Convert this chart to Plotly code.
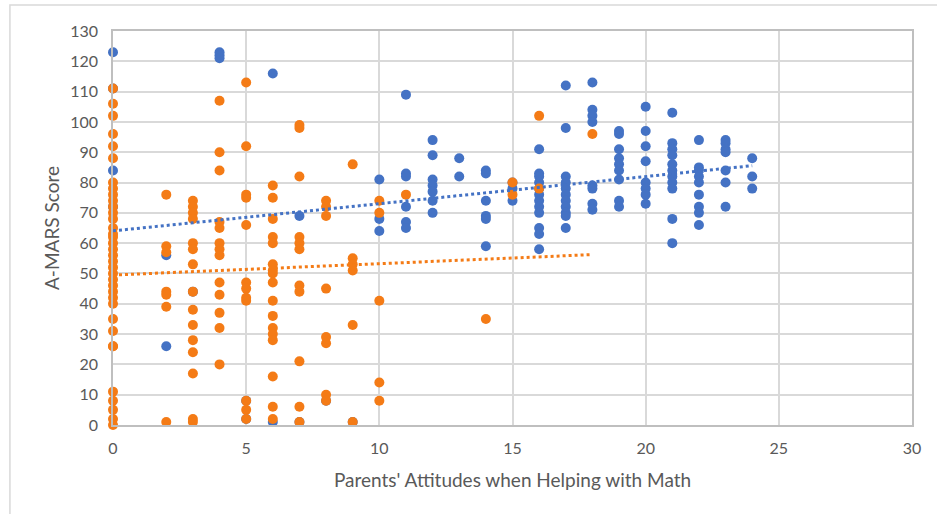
import numpy as np
import plotly.graph_objects as go

# Blue series: (attitude score, A-MARS score); several low-x points sit under orange marks
blue_x = [0, 0, 0, 0, 2, 2, 3, 4, 4, 4, 5, 5, 6, 6, 7, 7, 8, 9,
          10, 10, 10,
          11, 11, 11, 11, 11, 11,
          12, 12, 12, 12, 12, 12, 12,
          13, 13,
          14, 14, 14, 14, 14, 14,
          15, 15, 15,
          16, 16, 16, 16, 16, 16, 16, 16, 16, 16, 16, 16,
          17, 17, 17, 17, 17, 17, 17, 17, 17, 17, 17,
          18, 18, 18, 18, 18, 18, 18, 18,
          19, 19, 19, 19, 19, 19, 19, 19, 19,
          20, 20, 20, 20, 20, 20, 20, 20,
          21, 21, 21, 21, 21, 21, 21, 21, 21, 21, 21,
          22, 22, 22, 22, 22, 22, 22, 22, 22,
          23, 23, 23, 23, 23, 23, 23,
          24, 24, 24]
blue_y = [123, 84, 111, 72, 56, 26, 44, 123, 122, 121, 2, 8, 116, 1, 69, 1, 8, 1,
          81, 68, 64,
          109, 83, 82, 72, 67, 65,
          94, 89, 81, 79, 77, 74, 70,
          88, 82,
          84, 83, 74, 69, 68, 59,
          80, 78, 74,
          91, 83, 82, 80, 78, 76, 74, 72, 70, 65, 63, 58,
          112, 98, 82, 80, 78, 76, 74, 72, 70, 69, 65,
          113, 104, 102, 100, 79, 78, 73, 71,
          97, 96, 91, 88, 86, 84, 81, 74, 72,
          105, 97, 92, 87, 80, 78, 76, 73,
          103, 93, 91, 89, 86, 84, 82, 80, 78, 68, 60,
          94, 85, 84, 82, 80, 76, 72, 70, 66,
          94, 93, 91, 90, 84, 80, 72,
          88, 82, 78]

# Orange series
orange_x = [0] * 36 + [2] * 7 + [3] * 15 + [4] * 13 + [5] * 12 + [6] * 17 + \
           [7] * 11 + [8] * 8 + [9] * 6 + [10] * 5 + [11, 14, 15, 15, 16, 16, 18]
orange_y = [111, 106, 102, 96, 92, 88, 80, 78, 76, 74, 72, 70, 68, 65, 63, 62,
            60, 58, 56, 54, 52, 50, 48, 46, 44, 42, 40, 35, 31, 26, 26, 11, 8, 5, 2, 0,
            76, 59, 57, 44, 43, 39, 1,
            74, 72, 70, 68, 60, 58, 53, 44, 38, 33, 28, 24, 17, 2, 1,
            107, 90, 84, 67, 65, 60, 58, 56, 47, 43, 37, 32, 20,
            113, 92, 76, 75, 66, 47, 45, 42, 41, 8, 5, 2,
            79, 75, 68, 62, 60, 53, 51, 50, 47, 41, 36, 32, 30, 28, 16, 6, 2,
            99, 98, 82, 62, 60, 58, 46, 44, 21, 6, 1,
            74, 72, 69, 45, 29, 27, 10, 8,
            86, 55, 53, 51, 33, 1,
            74, 70, 41, 14, 8,
            76, 35, 80, 76, 102, 78, 96]

x_ticks = [0, 5, 10, 15, 20, 25, 30]
y_ticks = list(range(0, 131, 10))

BLUE = "#4472C4"
ORANGE = "#F47B16"
GRID = "#d9d9d9"
TEXT = "#595959"
FONT = "Lato"


def linear_fit(xs, ys):
    slope, intercept = np.polyfit(xs, ys, 1)
    xr = np.array([min(xs), max(xs)], dtype=float)
    return xr, intercept + slope * xr


fig = go.Figure()

# blue first so the orange series is drawn over it
for xs, ys, col in [(blue_x, blue_y, BLUE), (orange_x, orange_y, ORANGE)]:
    fig.add_trace(go.Scatter(
        x=xs, y=ys, mode="markers", cliponaxis=False,
        marker=dict(size=10, color=col, line=dict(width=0)),
        showlegend=False))

for xs, ys, col in [(blue_x, blue_y, BLUE), (orange_x, orange_y, ORANGE)]:
    tx, ty = linear_fit(xs, ys)
    fig.add_trace(go.Scatter(
        x=tx, y=ty, mode="lines", cliponaxis=False,
        line=dict(color=col, width=3, dash="dot"),
        showlegend=False))

fig.update_xaxes(
    range=[0, 30], tickvals=x_ticks, ticktext=[str(v) for v in x_ticks],
    showgrid=True, gridcolor=GRID, gridwidth=1.5,
    showline=True, linecolor="#bfbfbf", linewidth=1.5, mirror=True,
    zeroline=False, ticks="outside", ticklen=8, tickcolor="rgba(0,0,0,0)",
    tickfont=dict(family=FONT, size=16, color=TEXT),
    title=dict(text="Parents' Attitudes when Helping with Math",
               font=dict(family=FONT, size=19, color=TEXT), standoff=18))
fig.update_yaxes(
    range=[0, 130], tickvals=y_ticks, ticktext=[str(v) for v in y_ticks],
    showgrid=True, gridcolor=GRID, gridwidth=1.5,
    showline=True, linecolor="#bfbfbf", linewidth=1.5, mirror=True,
    zeroline=False, ticks="outside", ticklen=10, tickcolor="rgba(0,0,0,0)",
    tickfont=dict(family=FONT, size=16, color=TEXT),
    title=dict(text="A-MARS Score",
               font=dict(family=FONT, size=19, color=TEXT), standoff=6))

# outer chart frame
fig.add_shape(type="rect", xref="paper", yref="paper",
              x0=-0.129, x1=1.2, y0=-0.5, y1=1.066,
              line=dict(color=GRID, width=1.5), layer="below")

fig.update_layout(
    width=937, height=514,
    margin=dict(l=113, r=25, t=31, b=89),
    paper_bgcolor="white", plot_bgcolor="white",
    font=dict(family=FONT, color=TEXT))

fig.write_html("out.html")
